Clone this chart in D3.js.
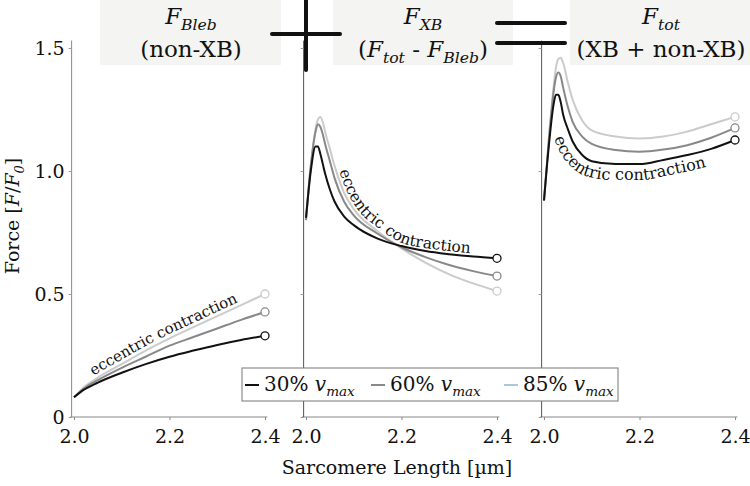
<!DOCTYPE html>
<html>
<head>
  <meta charset="utf-8">
  <style>
    body { margin: 0; background: #fff; }
  </style>
</head>
<body>
  <div id="chart"></div>
  <script src="https://d3js.org/d3.v7.min.js"></script>
  <script>
    var width = 750,
      height = 486,
      font = "'DejaVu Serif', serif";

    // data
    var seriesNames = ['30%', '60%', '85%'];
    var seriesColors = ['#111111', '#888888', '#cbcbcb'];
    var legendColors = ['#111111', '#888888', '#a9c9db'];

    var xTicks = [2.0, 2.2, 2.4];
    var yTicks = [0, 0.5, 1.0, 1.5];
    var yTickLabels = ['0', '0.5', '1.0', '1.5'];

    // panel 1: F_Bleb (non-XB)
    var blebX = [2.0, 2.02, 2.05, 2.1, 2.15, 2.2, 2.25, 2.3, 2.35, 2.4];
    var bleb30 = [0.08, 0.11, 0.14, 0.18, 0.215, 0.245, 0.27, 0.293, 0.313, 0.33];
    var bleb60 = [0.08, 0.115, 0.15, 0.2, 0.245, 0.29, 0.325, 0.36, 0.395, 0.427];
    var bleb85 = [0.08, 0.12, 0.16, 0.215, 0.27, 0.32, 0.365, 0.41, 0.455, 0.50];

    // panels 2 and 3 share the length grid
    var peakX = [2.0, 2.01, 2.02, 2.025, 2.03, 2.035, 2.04, 2.05, 2.06, 2.08, 2.1, 2.15, 2.2, 2.25, 2.3, 2.35, 2.4];
    var xb30 = [0.81, 1.0, 1.1, 1.1, 1.07, 1.03, 0.99, 0.925, 0.875, 0.815, 0.78, 0.725, 0.695, 0.675, 0.662, 0.652, 0.645];
    var xb60 = [0.80, 1.02, 1.16, 1.19, 1.18, 1.15, 1.11, 1.04, 0.97, 0.875, 0.82, 0.745, 0.69, 0.65, 0.618, 0.593, 0.573];
    var xb85 = [0.80, 1.02, 1.17, 1.21, 1.22, 1.20, 1.16, 1.09, 1.02, 0.91, 0.845, 0.755, 0.685, 0.628, 0.58, 0.543, 0.512];

    var tot30 = [0.88, 1.10, 1.27, 1.31, 1.31, 1.28, 1.23, 1.17, 1.12, 1.065, 1.04, 1.028, 1.028, 1.045, 1.065, 1.09, 1.126];
    var tot60 = [0.88, 1.12, 1.32, 1.38, 1.40, 1.385, 1.34, 1.26, 1.20, 1.14, 1.11, 1.085, 1.078, 1.087, 1.105, 1.135, 1.175];
    var tot85 = [0.88, 1.13, 1.34, 1.42, 1.455, 1.46, 1.44, 1.36, 1.29, 1.205, 1.165, 1.14, 1.132, 1.14, 1.16, 1.19, 1.22];

    var panels = [
      { x: blebX, ys: [bleb30, bleb60, bleb85], left: 74, labels: true },
      { x: peakX, ys: [xb30, xb60, xb85], left: 306, labels: false },
      { x: peakX, ys: [tot30, tot60, tot85], left: 544, labels: false }
    ];
    var panelW = 191;

    var svg = d3.select('#chart').append('svg')
      .attr('width', width)
      .attr('height', height)
      .style('font-family', font);

    var y = d3.scaleLinear().domain([0, 1.5]).range([417, 48]);

    // title boxes
    var titleBoxes = [[100, 281], [333, 513], [570, 750]];
    svg.selectAll('rect.tbox')
      .data(titleBoxes)
      .enter().append('rect')
      .attr('x', function(d) { return d[0]; })
      .attr('y', 0)
      .attr('width', function(d) { return d[1] - d[0]; })
      .attr('height', 65)
      .attr('fill', '#f4f4f2');

    panels.forEach(function(p, i) {
      var x = d3.scaleLinear().domain([2.0, 2.4]).range([p.left, p.left + panelW]);
      p.xs = x;
      var g = svg.append('g');
      var axisColor = i == 0 ? '#888' : '#555';

      // x axis
      var xa = g.append('g')
        .attr('transform', 'translate(0,417)')
        .call(d3.axisBottom(x).tickValues(xTicks).tickFormat(d3.format('.1f')).tickSize(3).tickPadding(10));
      xa.attr('font-family', null).attr('font-size', 19);
      xa.select('.domain').attr('d', 'M' + x(1.992) + ',0H' + x(2.405)).attr('stroke', '#888');
      xa.selectAll('.tick line').attr('stroke', '#888');
      xa.selectAll('.tick text').attr('fill', '#111');

      // y axis
      var ya = g.append('g')
        .attr('transform', 'translate(' + x(1.995) + ',0)')
        .call(d3.axisLeft(y).tickValues(yTicks).tickSize(3).tickPadding(4)
          .tickFormat(function(d, k) { return p.labels ? yTickLabels[k] : ''; }));
      ya.attr('font-family', null).attr('font-size', 19);
      ya.select('.domain').attr('d', 'M0,' + y(1.53) + 'V' + y(0)).attr('stroke', axisColor);
      ya.selectAll('.tick line').attr('stroke', '#999');
      ya.selectAll('.tick text').attr('fill', '#111');

      var line = d3.line()
        .x(function(d) { return x(d[0]); })
        .y(function(d) { return y(d[1]); })
        .curve(d3.curveMonotoneX);

      // draw light first so black sits on top
      [2, 1, 0].forEach(function(s) {
        var pts = p.x.map(function(v, k) { return [v, p.ys[s][k]]; });
        g.append('path')
          .attr('d', line(pts))
          .attr('fill', 'none')
          .attr('stroke', seriesColors[s])
          .attr('stroke-width', 2);
        var last = pts[pts.length - 1];
        g.append('circle')
          .attr('cx', x(last[0]))
          .attr('cy', y(last[1]))
          .attr('r', 4)
          .attr('fill', '#fff')
          .attr('stroke', seriesColors[s])
          .attr('stroke-width', 1.3);
      });
    });

    // "eccentric contraction" labels, set on a path offset along the curve normal
    function curveLabel(p, vals, off, fromX, id, size) {
      var pts = p.x.map(function(v, k) { return [v, vals[k]]; });
      var line = d3.line()
        .x(function(d) { return p.xs(d[0]); })
        .y(function(d) { return y(d[1]); })
        .curve(d3.curveMonotoneX);
      var tmp = svg.append('path').attr('d', line(pts)).attr('fill', 'none');
      var node = tmp.node(), len = node.getTotalLength(), n = 300, samples = [];
      for (var k = 0; k <= n; k++) samples.push(node.getPointAtLength(len * k / n));
      tmp.remove();
      var target = p.xs(fromX);
      var shifted = [];
      samples.forEach(function(pt, k) {
        if (pt.x < target) return;
        var a = samples[Math.max(0, k - 4)], b = samples[Math.min(n, k + 4)];
        var tx = b.x - a.x, ty = b.y - a.y, l = Math.hypot(tx, ty) || 1;
        shifted.push([pt.x - ty / l * off, pt.y + tx / l * off]);
      });
      svg.append('path')
        .attr('id', id)
        .attr('d', d3.line().curve(d3.curveBasis)(shifted))
        .attr('fill', 'none');
      svg.append('text')
        .attr('font-size', size)
        .attr('fill', '#111')
        .append('textPath')
        .attr('href', '#' + id)
        .text('eccentric contraction');
    }

    var envXB = peakX.map(function(v, k) { return Math.max(xb30[k], xb60[k], xb85[k]); });
    curveLabel(panels[0], bleb85, -4, 2.045, 'lab1', 15);
    curveLabel(panels[1], envXB, -3, 2.063, 'lab2', 15.5);
    curveLabel(panels[2], tot30, 16, 2.052, 'lab3', 16);

    // rich text helper: parts with italic / subscript flags
    function rich(sel, parts, size) {
      var t = sel.append('text').attr('font-size', size).attr('fill', '#111');
      var lowered = false;
      parts.forEach(function(pt) {
        var ts = t.append('tspan').text(pt.t);
        if (pt.it) ts.attr('font-style', 'italic');
        if (pt.sub && !lowered) { ts.attr('dy', size * 0.25).attr('font-size', size * 0.68); lowered = true; }
        else if (pt.sub) { ts.attr('font-size', size * 0.68); }
        else if (lowered) { ts.attr('dy', -size * 0.25); lowered = false; }
      });
      return t;
    }

    var titles = [
      { cx: 191, l1: [{ t: 'F', it: 1 }, { t: 'Bleb', it: 1, sub: 1 }], l2: [{ t: '(non-XB)' }] },
      { cx: 423, l1: [{ t: 'F', it: 1 }, { t: 'XB', it: 1, sub: 1 }],
        l2: [{ t: '(' }, { t: 'F', it: 1 }, { t: 'tot', it: 1, sub: 1 }, { t: ' - ' }, { t: 'F', it: 1 }, { t: 'Bleb', it: 1, sub: 1 }, { t: ')' }] },
      { cx: 661, l1: [{ t: 'F', it: 1 }, { t: 'tot', it: 1, sub: 1 }], l2: [{ t: '(XB + non-XB)' }] }
    ];
    titles.forEach(function(tt) {
      rich(svg, tt.l1, 23).attr('x', tt.cx).attr('y', 24).attr('text-anchor', 'middle');
      rich(svg, tt.l2, 23).attr('x', tt.cx).attr('y', 57).attr('text-anchor', 'middle');
    });

    // plus and equals signs
    var bars = [
      [272, 34, 340, 34], [306, 0, 306, 70],
      [497, 23, 565, 23], [497, 43, 565, 43]
    ];
    svg.selectAll('line.op')
      .data(bars)
      .enter().append('line')
      .attr('x1', function(d) { return d[0]; })
      .attr('y1', function(d) { return d[1]; })
      .attr('x2', function(d) { return d[2]; })
      .attr('y2', function(d) { return d[3]; })
      .attr('stroke', '#111')
      .attr('stroke-width', 4)
      .attr('stroke-linecap', 'round');

    // axis labels
    svg.append('text')
      .attr('x', 397).attr('y', 474)
      .attr('text-anchor', 'middle')
      .attr('font-size', 19)
      .attr('fill', '#111')
      .text('Sarcomere Length [\u00b5m]');

    rich(svg, [{ t: 'Force [' }, { t: 'F', it: 1 }, { t: '/' }, { t: 'F', it: 1 }, { t: '0', it: 1, sub: 1 }, { t: ']' }], 19)
      .attr('text-anchor', 'middle')
      .attr('transform', 'translate(19,216) rotate(-90)');

    // legend
    var lg = svg.append('g');
    lg.append('rect')
      .attr('x', 242).attr('y', 368)
      .attr('width', 376).attr('height', 33)
      .attr('fill', '#fff')
      .attr('stroke', '#777')
      .attr('stroke-width', 1);
    var legendX = [245, 371, 504];
    seriesNames.forEach(function(n, i) {
      lg.append('line')
        .attr('x1', legendX[i]).attr('x2', legendX[i] + 14)
        .attr('y1', 385).attr('y2', 385)
        .attr('stroke', legendColors[i])
        .attr('stroke-width', 2);
      rich(lg, [{ t: n + ' ' }, { t: 'v', it: 1 }, { t: 'max', it: 1, sub: 1 }], 20)
        .attr('x', legendX[i] + 19).attr('y', 391);
    });
  </script>
</body>
</html>
